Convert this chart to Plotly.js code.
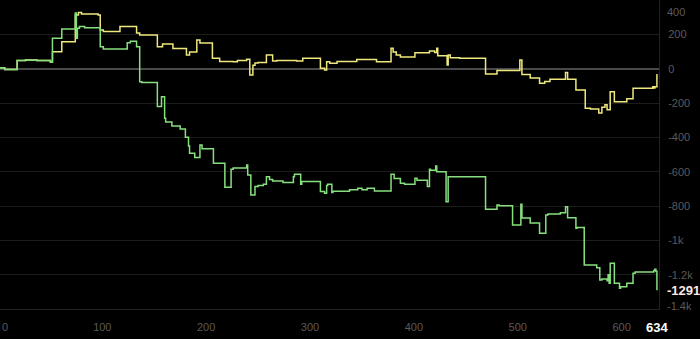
<!DOCTYPE html>
<html>
<head>
<meta charset="utf-8">
<script src="https://cdn.plot.ly/plotly-3.0.1.min.js"></script>
<style>html,body{margin:0;padding:0;background:#000;}#chart{width:700px;height:339px;}</style>
</head>
<body>
<div id="chart"></div>
<script>
// Yellow series (step breakpoints)
const yellowX = [0,6,18,26,37,50,52,61,74,77,80,96,98,101,117,133,136,153,158,168,181,184,191,194,206,213,226,230,239,242,245,247,250,258,264,268,287,293,310,314,316,319,326,345,364,378,380,383,387,401,415,420,422,423,432,433,435,444,469,480,502,504,512,521,526,531,546,548,556,565,570,578,581,584,586,589,593,605,611,630,631,632,634];
const yellowY = [6,-5,47,51,48,39,99,157,313,327,319,313,225,217,245,208,196,128,144,118,80,97,167,150,61,42,41,48,55,-37,20,33,36,80,45,48,45,61,2,-8,41,31,42,54,41,119,97,80,68,93,103,94,119,75,22,80,64,61,-31,-10,51,-34,-54,-85,-75,-62,-23,-62,-124,-231,-235,-258,-225,-210,-240,-134,-192,-175,-114,-105,-112,-105,-31];
// Green series (step breakpoints)
const greenX = [0,6,18,26,37,50,52,61,74,75,76,78,83,98,101,124,127,133,136,138,153,157,160,161,167,175,180,183,184,189,194,196,207,218,224,226,239,240,243,247,250,255,258,261,264,274,284,285,291,292,310,314,316,317,321,322,338,346,350,355,362,378,381,387,391,401,403,413,415,416,421,422,431,433,469,480,482,495,503,504,512,521,527,529,541,546,548,556,557,564,576,579,581,586,587,588,589,593,598,599,605,611,613,631,632,633,634];
const greenY = [6,-5,47,51,48,39,177,231,324,177,235,245,239,128,115,151,160,128,-76,-80,-221,-163,-289,-311,-334,-351,-400,-450,-493,-518,-444,-466,-551,-691,-586,-578,-561,-620,-736,-687,-680,-674,-629,-645,-654,-663,-630,-615,-674,-658,-716,-725,-680,-674,-722,-714,-705,-697,-705,-697,-712,-615,-640,-668,-674,-639,-650,-687,-586,-592,-567,-600,-775,-629,-819,-794,-798,-910,-790,-870,-899,-959,-852,-846,-840,-804,-868,-930,-925,-1143,-1160,-1231,-1225,-1235,-1200,-1250,-1134,-1250,-1279,-1270,-1250,-1192,-1184,-1175,-1168,-1180,-1291];

const yTickVals = [200,0,-200,-400,-600,-800,-1000,-1200];
const yTickText = ['200','0','-200','-400','-600','-800','-1k','-1.2k'];
const xTickVals = [100,200,300,400,500,600];
const xTickText = ['100','200','300','400','500','600'];
const lastX = 634;
const lastGreen = -1291;

const tickFont = {family:'Liberation Sans, Arial, sans-serif', size:11, color:'#5a5a5a'};

const traces = [
  {x: yellowX, y: yellowY, type:'scatter', mode:'lines', line:{shape:'hv', color:'#efe87c', width:1.5}, hoverinfo:'skip'},
  {x: greenX, y: greenY, type:'scatter', mode:'lines', line:{shape:'hv', color:'#86e07e', width:1.5}, hoverinfo:'skip'}
];

const layout = {
  width:700, height:339,
  margin:{l:0, r:41, t:0, b:30, pad:0},
  paper_bgcolor:'#000', plot_bgcolor:'#000',
  showlegend:false,
  xaxis:{range:[1.5,636], tickvals:xTickVals, ticktext:xTickText, showgrid:false, zeroline:false,
         showline:true, linecolor:'#222', linewidth:1, ticks:'', tickfont:tickFont, ticklabelstandoff:8, fixedrange:true},
  yaxis:{range:[-1400,400], side:'right', tickvals:yTickVals, ticktext:yTickText, showgrid:true, gridcolor:'#1c1c1c', gridwidth:1,
         zeroline:true, zerolinecolor:'#4a4a4a', zerolinewidth:2, showline:true, linecolor:'#222', linewidth:1,
         ticks:'', tickfont:tickFont, ticklabelstandoff:6, fixedrange:true},
  annotations:[
    {xref:'paper', x:1, xanchor:'left', xshift:6, yref:'y', y:400, yshift:-12, text:'400', showarrow:false, font:tickFont},
    {xref:'paper', x:1, xanchor:'left', xshift:6, yref:'y', y:-1400, yshift:3, text:'-1.4k', showarrow:false, font:tickFont},
    {xref:'paper', x:0, xanchor:'left', xshift:0, yref:'paper', y:0, yanchor:'top', yshift:-10, text:'0', showarrow:false, font:tickFont},
    {xref:'paper', x:1, xanchor:'left', xshift:6, yref:'y', y:lastGreen, text:'<b>'+lastGreen+'</b>', showarrow:false,
     font:{family:'Liberation Sans, Arial, sans-serif', size:13, color:'#fbe9e9'}},
    {xref:'x', x:lastX, xanchor:'center', yref:'paper', y:0, yanchor:'top', yshift:-9, text:'<b>'+lastX+'</b>', showarrow:false,
     font:{family:'Liberation Sans, Arial, sans-serif', size:13, color:'#ffffff'}}
  ]
};

Plotly.newPlot('chart', traces, layout, {staticPlot:true, displayModeBar:false});
</script>
</body>
</html>
